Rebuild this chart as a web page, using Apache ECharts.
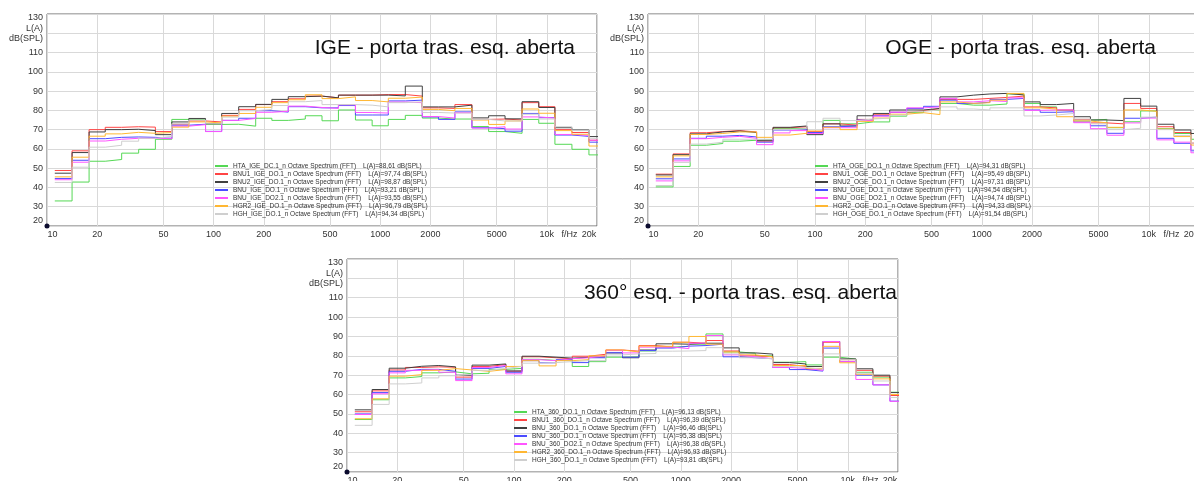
<!DOCTYPE html>
<html><head><meta charset="utf-8">
<script src="https://cdn.jsdelivr.net/npm/echarts@6/dist/echarts.min.js"></script>
<style>html,body{margin:0;padding:0;background:#fff}#c{width:1194px;height:481px}</style>
</head><body><div id="c"></div>
<script>
// ---------- DATA ----------
const bands = [12.5,16,20,25,31.5,40,50,63,80,100,125,160,200,250,315,400,500,630,800,1000,1250,1600,2000,2500,3150,4000,5000,6300,8000,10000,12500,16000,20000];
const xGridValues = [10,20,50,100,200,500,1000,2000,5000,10000,20000];
const xLabelValues = [10,20,50,100,200,500,1000,2000,5000,10000,13700,20000];
const xLabelTexts = ['10','20','50','100','200','500','1000','2000','5000','10k','f/Hz','20k'];
const yUnitLabel = ['L(A)','dB(SPL)'];

const igeNames = ['HTA_IGE_DC.1_n Octave Spectrum (FFT)','BNU1_IGE_DO.1_n Octave Spectrum (FFT)','BNU2_IGE_DO.1_n Octave Spectrum (FFT)','BNU_IGE_DO.1_n Octave Spectrum (FFT)','BNU_IGE_DO2.1_n Octave Spectrum (FFT)','HGR2_IGE_DO.1_n Octave Spectrum (FFT)','HGH_IGE_DO.1_n Octave Spectrum (FFT)'];
const igeLA = ['L(A)=88,61 dB(SPL)','L(A)=97,74 dB(SPL)','L(A)=98,87 dB(SPL)','L(A)=93,21 dB(SPL)','L(A)=93,55 dB(SPL)','L(A)=96,79 dB(SPL)','L(A)=94,34 dB(SPL)'];
const ogeNames = ['HTA_OGE_DO.1_n Octave Spectrum (FFT)','BNU1_OGE_DO.1_n Octave Spectrum (FFT)','BNU2_OGE_DO.1_n Octave Spectrum (FFT)','BNU_OGE_DO.1_n Octave Spectrum (FFT)','BNU_OGE_DO2.1_n Octave Spectrum (FFT)','HGR2_OGE_DO.1_n Octave Spectrum (FFT)','HGH_OGE_DO.1_n Octave Spectrum (FFT)'];
const ogeLA = ['L(A)=94,31 dB(SPL)','L(A)=95,49 dB(SPL)','L(A)=97,31 dB(SPL)','L(A)=94,54 dB(SPL)','L(A)=94,74 dB(SPL)','L(A)=94,33 dB(SPL)','L(A)=91,54 dB(SPL)'];
const e360Names = ['HTA_360_DO.1_n Octave Spectrum (FFT)','BNU1_360_DO.1_n Octave Spectrum (FFT)','BNU_360_DO.1_n Octave Spectrum (FFT)','BNU_360_DO.1_n Octave Spectrum (FFT)','BNU_360_DO2.1_n Octave Spectrum (FFT)','HGR2_360_DO.1_n Octave Spectrum (FFT)','HGH_360_DO.1_n Octave Spectrum (FFT)'];
const e360LA = ['L(A)=96,13 dB(SPL)','L(A)=96,39 dB(SPL)','L(A)=96,46 dB(SPL)','L(A)=95,38 dB(SPL)','L(A)=96,38 dB(SPL)','L(A)=96,93 dB(SPL)','L(A)=93,81 dB(SPL)'];

// IGE
const ige_HTA  = [33,42.8,53.6,54.5,57.8,59.8,65,75.3,75.3,72.7,72.8,71.8,75.9,74.8,75.5,77.2,74.6,80.2,75,72,75.3,77.4,76,75.5,75.5,71.6,69,68.1,75.3,73.3,62.4,59.8,56.9];
const ige_BNU1 = [48.8,59,70,71.2,71.5,71.3,69,72.8,74.5,74,77.4,80.5,83,84.5,86,87.4,86.5,87.9,87.9,88.2,88.2,87.4,81.3,81,83,75.3,75.5,75,84,81.9,70,68.5,64.5];
const ige_BNU2 = [47.4,58.1,68.8,70,70.2,69.5,67.4,74,75.8,73,78.4,81.9,83.1,85.7,87.1,87.4,86.5,87.9,87.9,87.9,87.5,92.6,81.8,81.8,82.7,76.1,77.2,75.6,84.5,81.5,71,69.8,66.4];
const ige_BNU  = [44.6,54.1,65.3,66,66.2,66,65.5,72.3,72.8,69.1,74.8,75.9,79.8,79.1,81.9,81.3,81.3,82.5,77.6,77.6,84.9,85.3,76.6,75.3,79.2,71,70.5,69.2,78.4,76.2,67.2,66.5,63.5];
const ige_DO2  = [44,53.1,64.1,65,65.5,65.5,65.3,71.8,72.6,69,74.8,75.8,79,79.5,82.2,81.5,81,82.9,78.9,78.6,84.3,84,76.8,76,78.8,70.8,71.5,70.3,76.6,76,67.5,67,64.5];
const ige_HGR2 = [45.5,55.7,66.6,67.8,68.6,68.1,68.5,71.3,74,73.5,77,78.4,81.6,84,85.5,88.1,86.1,87,85.1,84.4,86.3,86.9,80.5,79.8,81,75,72.7,74.5,80.7,78.5,69.5,67.6,61.5];
const ige_HGH  = [42.6,50.5,60.9,61.9,64,65.5,66.5,73,75,73,76.5,79.8,80.5,82.5,84.5,85.1,83,83,82.7,81.8,84,84.4,78.9,78.6,78.6,75.3,74.5,74.5,78,75.5,71.5,69.5,65.5];
// OGE
const oge_HTA  = [40.3,50.9,61.9,62.8,64,64.5,64.8,70.5,70.5,68.5,74.8,73,74,74,77,78.8,80,83.6,82.7,82.7,83.3,88.5,83.6,81.8,80,75,75.3,71,74.1,79.7,70.5,68,65];
const oge_BNU1 = [46.9,57.4,68.4,69,69.5,68.8,64,71,71.5,69,73,72.3,75.3,77.7,79,79.8,80.8,85.7,85.7,86.2,86.7,87.4,81.8,81.3,80.2,75.3,73.5,73,83.6,81,71.5,68.5,63];
const oge_BNU2 = [46.5,57,67.8,68.8,69.3,68.5,64.5,71.2,71.9,67.4,73,71.9,77.2,78.4,80.2,80.2,81,87,87.9,88.5,88.8,88,84.4,83,83.6,76.7,75,74.7,86.2,82.2,72.8,69.8,68];
const oge_BNU  = [44.5,54.8,65.5,66.6,67,66.2,63.5,69.8,70,68.5,71.5,72,75,77.2,79,81,82.1,85.3,83.6,84.2,85.7,86.2,80.2,79,79.3,74,72,68.1,75.9,76.5,65.5,62.9,59];
const oge_DO2  = [43.4,53.8,65.3,66,66.5,65.5,62.2,68.3,69.5,68,71,71,74.8,77,79,81.3,81.8,86.2,84.4,85,84.6,86.5,80,80.2,80.2,73.6,70.5,67.1,73.5,76,64.7,63.5,58];
const oge_HGR2 = [45.5,56.4,67.5,68,68.8,68.8,66,67.2,68.1,69.3,71.2,70,74.3,76,78,78.8,77.8,84.4,83.6,84,85.3,88.8,81.3,80.7,76.7,74.5,73.5,71.2,80.2,79.5,70.3,66.4,62];
const oge_HGH  = [41,53,62.5,63.5,65,65,65,70,70.5,74.1,75.9,74.7,75.5,76,77.5,79.5,80.2,81.8,80.7,80.2,81.3,81.3,77.1,77.6,78.4,75.5,73,70,70.7,76.5,70,67,63];
// 360
const e360_HTA  = [47.1,57.3,68.6,69.3,71.2,71.7,70.7,71,73,73.5,78.2,77.6,78,74.5,77,79.3,79.5,82.5,84.5,84.9,86,91.3,82,81.3,80,76.7,77,75.3,79.3,78.3,71.5,69,61.2];
const e360_BNU1 = [51.1,61.9,72.7,74,74.3,74.1,69,74.5,75.5,72,79.5,79,78.5,79.8,80.8,83,82.4,85.3,84.5,87,86.5,87.9,82.5,80,79.5,75.5,74.5,73,87,78,72.5,69.5,59.5];
const e360_BNUa = [52.1,62.6,73.6,74.6,75,74.3,70,75.2,75.8,72.2,79.8,79.3,78.8,79.2,79.5,81.5,79,83,86.2,86,86.5,86.5,84.1,81.5,80.9,76.5,75.8,74.5,87.4,78.4,73.3,70,61];
const e360_BNU  = [50,61,72,73,73,72,68,73.5,74.5,71.5,77.5,76.4,78,76.5,79,81.6,79.3,82.7,84,85,85.3,86,79.5,79,78.5,74,72.9,72.1,84,77,70,65,56.6];
const e360_DO2  = [49.7,60.4,71.2,72.5,72.9,71.5,67.2,74,75,70.7,78,77.5,78.5,79,80,82.7,81.5,84.5,84.5,83.7,86.5,90.5,80.5,79.5,78.5,74,73.5,72.5,87.4,77,67.8,65,56.5];
const e360_HGR2 = [47.5,57.8,69.5,70.3,72.5,73.4,72.7,72,72.9,74.5,77.5,74.8,77.5,78,80,83,82,85,84.9,87,90,86,82,80.5,79.5,75,75,73.5,84.9,76.4,70.5,68.1,60];
const e360_HGH  = [44.1,54.9,65.5,66,68.6,69.7,70.5,72.5,73.5,74.5,76.2,76.5,77,77.5,77.5,80.5,81,81.2,82.4,82.5,82.7,84.2,81,79,78.5,74.5,74,73,81,78,71,67,58.5];

// ---------- STYLE / LAYOUT ----------
const FONT = '"Liberation Sans", Arial, sans-serif';
const colors = ['#55d855','#ff4545','#404040','#4c4cff','#ff55ff','#ffb733','#cfcfcf'];
const panels = [
  {title:'IGE - porta tras. esq. aberta', names:igeNames, la:igeLA, values:[ige_HTA,ige_BNU1,ige_BNU2,ige_BNU,ige_DO2,ige_HGR2,ige_HGH],
   grid:{left:47,top:14,width:550,height:212}, titleRight:619, titleTop:38, legend:{left:215,top:162}},
  {title:'OGE - porta tras. esq. aberta', names:ogeNames, la:ogeLA, values:[oge_HTA,oge_BNU1,oge_BNU2,oge_BNU,oge_DO2,oge_HGR2,oge_HGH],
   grid:{left:648,top:14,width:551,height:212}, titleRight:38, titleTop:38, legend:{left:815,top:162}},
  {title:'360° esq. - porta tras. esq. aberta', names:e360Names, la:e360LA, values:[e360_HTA,e360_BNU1,e360_BNUa,e360_BNU,e360_DO2,e360_HGR2,e360_HGH],
   grid:{left:347,top:259,width:551,height:213}, titleRight:297, titleTop:283, legend:{left:514,top:408}}
];

// band edges (geometric means between neighbouring band centres)
const edges = [];
edges.push(bands[0] / Math.pow(2, 1/6));
for (let i = 0; i < bands.length - 1; i++) edges.push(Math.sqrt(bands[i] * bands[i+1]));
edges.push(bands[bands.length-1] * Math.pow(2, 1/6));
function stepData(vals) {
  const d = [];
  vals.forEach((v, i) => { d.push([edges[i], v]); d.push([edges[i+1], v]); });
  return d;
}
function xLabelFor(v) {
  let best = 0, bd = Infinity;
  xLabelValues.forEach((x, i) => { const dd = Math.abs(Math.log(x) - Math.log(v)); if (dd < bd) { bd = dd; best = i; } });
  const t = xLabelTexts[best];
  if (best === 0) return '{l|' + t + '}';
  if (best === xLabelTexts.length - 1) return '{r|' + t + '}';
  return t;
}
function yLabelFor(v) {
  if (v === 130) return '{t|130}';
  if (v === 20) return '{b|20}';
  if (v === 120) return '{u|' + yUnitLabel[0] + '}\n{u|' + yUnitLabel[1] + '}';
  return String(v);
}

const labelColor = '#333';
const option = {
  animation: false,
  backgroundColor: '#fff',
  textStyle: {fontFamily: FONT},
  title: panels.map(p => ({
    text: p.title, right: p.titleRight, top: p.titleTop, padding: 0,
    textStyle: {fontSize: 21, fontWeight: 'normal', color: '#111', fontFamily: FONT}
  })),
  grid: panels.map(p => Object.assign({show: true, borderColor: '#666', borderWidth: 1, backgroundColor: 'transparent', containLabel: false, outerBoundsMode: 'none'}, p.grid)),
  xAxis: panels.map((p, i) => ({
    type: 'log', logBase: 10, gridIndex: i, min: 10, max: 20000,
    axisLine: {show: false},
    axisTick: {show: false, customValues: xGridValues},
    splitLine: {show: true, lineStyle: {color: '#d9d9d9', width: 1}},
    minorSplitLine: {show: false},
    axisLabel: {
      customValues: xLabelValues, formatter: xLabelFor, fontSize: 9, color: labelColor, margin: 4, fontFamily: FONT,
      rich: {l: {padding: [0,0,0,11], fontSize: 9, color: labelColor, fontFamily: FONT},
             r: {padding: [0,16,0,0], fontSize: 9, color: labelColor, fontFamily: FONT}}
    }
  })),
  yAxis: panels.map((p, i) => ({
    type: 'value', gridIndex: i, min: 20, max: 130, interval: 10,
    axisLine: {show: false}, axisTick: {show: false},
    splitLine: {show: true, lineStyle: {color: '#d9d9d9', width: 1}},
    axisLabel: {
      formatter: yLabelFor, fontSize: 9, color: labelColor, margin: 4, fontFamily: FONT,
      rich: {t: {padding: [8,0,0,0], fontSize: 9, color: labelColor, fontFamily: FONT},
             b: {padding: [0,0,10,0], fontSize: 9, color: labelColor, fontFamily: FONT},
             u: {fontSize: 9, lineHeight: 10, color: labelColor, fontFamily: FONT}}
    }
  })),
  legend: panels.map((p, i) => ({
    orient: 'vertical', left: p.legend.left, top: p.legend.top, padding: 0, itemGap: 0,
    itemWidth: 13, itemHeight: 2, icon: 'rect', selectedMode: false,
    data: p.names.map((n, k) => 'p' + i + '_' + k),
    formatter: name => { const k = +name.split('_')[1]; return '{n|' + p.names[k] + '}{v|' + p.la[k] + '}'; },
    textStyle: {fontSize: 6.5, color: '#333', lineHeight: 8, fontFamily: FONT,
      rich: {n: {fontSize: 6.5, lineHeight: 8, color: '#333', fontFamily: FONT},
             v: {fontSize: 6.5, lineHeight: 8, color: '#333', padding: [0,0,0,7], fontFamily: FONT}}}
  })),
  series: [],
  graphic: panels.map(p => ({type: 'circle', z: 100, shape: {cx: p.grid.left, cy: p.grid.top + p.grid.height, r: 2.5}, style: {fill: '#0b0b2e'}}))
};
panels.forEach((p, i) => {
  p.values.forEach((vals, k) => {
    option.series.push({
      type: 'line', name: 'p' + i + '_' + k, xAxisIndex: i, yAxisIndex: i,
      data: stepData(vals), symbol: 'none', showSymbol: false, silent: true, clip: true,
      color: colors[k], lineStyle: {width: 1, color: colors[k]}, itemStyle: {color: colors[k]}
    });
  });
});
const chart = echarts.init(document.getElementById('c'), null, {renderer: 'canvas'});
chart.setOption(option);
</script></body></html>
